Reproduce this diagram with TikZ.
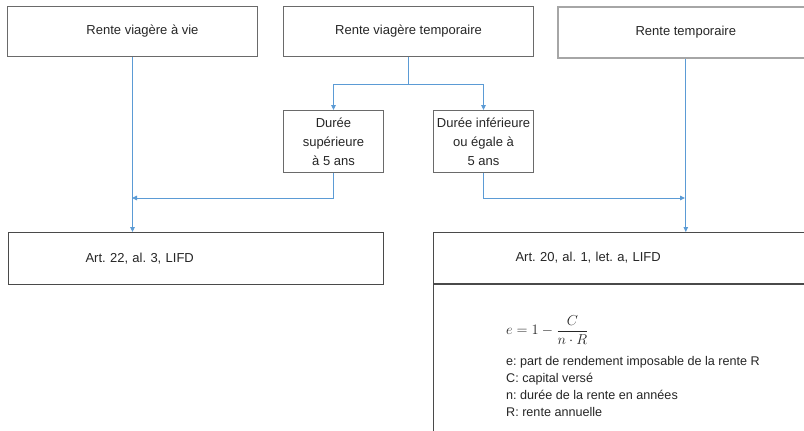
\documentclass[tikz,border=0pt]{standalone}
\usepackage{fontspec}
\setmainfont{Liberation Sans}
\usepackage{amsmath}
\usetikzlibrary{arrows.meta}
\definecolor{lineblue}{HTML}{5B9BD5}
\definecolor{boxgray}{HTML}{6A6A6A}
\definecolor{boxdark}{HTML}{4A4A4A}
\definecolor{boxlight}{HTML}{A6A6A6}
\definecolor{textcol}{HTML}{262626}
\frenchspacing
\begin{document}
\begin{tikzpicture}[x=1pt,y=-1pt,
  box/.style={draw=boxgray, line width=1pt, rectangle, inner sep=0pt, text=textcol,
    font=\fontsize{13}{19}\selectfont, align=center},
  conn/.style={draw=lineblue, line width=0.9pt},
  arr/.style={conn, -{Triangle[length=5pt,width=4.5pt]}},
]
\useasboundingbox (0,0) rectangle (804,431);
\fill[white] (0,0) rectangle (804,431);

\node[box, anchor=north west, minimum width=250pt, minimum height=50pt] (b1) at (7,6) {\hspace*{20pt}Rente viagère à vie};
\node[box, anchor=north west, minimum width=250pt, minimum height=50pt] (b2) at (283,6) {Rente viagère temporaire};
\node[box, draw=boxlight, line width=1.6pt, anchor=north west, minimum width=256pt, minimum height=51pt] (b3) at (557,6) {Rente temporaire};

\node[box, anchor=north west, minimum width=100pt, minimum height=62pt] (d1) at (283,110) {Durée\\supérieure\\à 5 ans};
\node[box, anchor=north west, minimum width=100pt, minimum height=62pt] (d2) at (433,110) {Durée inférieure\\ou égale à\\5 ans};

\node[box, draw=boxdark, anchor=north west, inner xsep=77pt, text width=221pt, align=left, minimum height=52pt] (a22) at (8,232) {Art. 22, al. 3, LIFD};
\node[box, draw=boxdark, anchor=north west, inner xsep=82pt, text width=216pt, align=left, minimum height=51pt] (a20) at (433,232) {Art. 20, al. 1, let. a, LIFD};
\draw[boxdark, line width=2pt] (a20.south west) -- (a20.south east);
\coordinate (bl) at (433,431);
\draw[boxdark, line width=1pt] (a20.south west) -- (bl);

\node[anchor=west, text=textcol, inner sep=0pt] (f) at (506,330) {\fontsize{15.5}{18}\selectfont $\displaystyle e=1-\frac{C}{n\cdot R}$};
\node[anchor=north west, align=left, inner sep=0pt, text=textcol, font=\fontsize{12.6}{17}\selectfont] (leg) at (506,356) {e: part de rendement imposable de la rente R\\C: capital versé\\n: durée de la rente en années\\R: rente annuelle};

\draw[arr] (b1.south) -- (b1.south |- a22.north);
\draw[conn] (b2.south) -- ++(0,27) coordinate (s2);
\draw[arr] (s2) -| (d1.north);
\draw[arr] (s2) -| (d2.north);
\coordinate (j1) at (132,198);
\coordinate (j2) at (685,198);
\draw[arr] (d1.south) |- (j1);
\draw[arr] (d2.south) |- (j2);
\draw[arr] (b3.south) -- (b3.south |- a20.north);
\end{tikzpicture}
\end{document}
